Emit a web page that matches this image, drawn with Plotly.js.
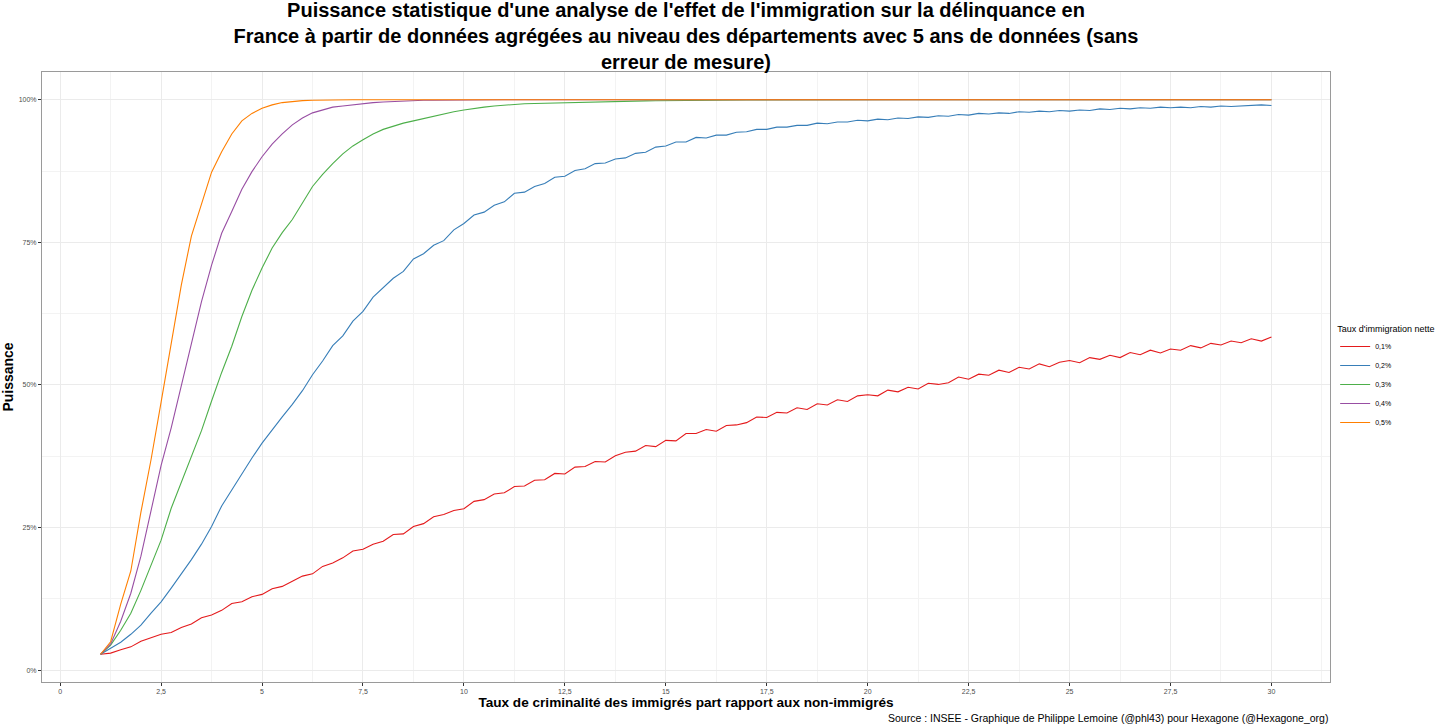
<!DOCTYPE html>
<html>
<head>
<meta charset="utf-8">
<script src="https://cdn.plot.ly/plotly-3.0.1.min.js"></script>
<style>html,body{margin:0;padding:0;background:#fff;}#chart{width:1456px;height:728px;}</style>
</head>
<body>
<div id="chart"></div>
<script>
// x: taux de criminalité relatif
const ratio = [
 1, 1.25, 1.5, 1.75,  2, 2.25, 2.5, 2.75,  3, 3.25, 3.5, 3.75,  4, 4.25, 4.5, 4.75,
 5, 5.25, 5.5, 5.75,  6, 6.25, 6.5, 6.75,  7, 7.25, 7.5, 7.75,  8, 8.25, 8.5, 8.75,
 9, 9.25, 9.5, 9.75,  10, 10.25, 10.5, 10.75,  11, 11.25, 11.5, 11.75,  12, 12.25, 12.5, 12.75,
 13, 13.25, 13.5, 13.75,  14, 14.25, 14.5, 14.75,  15, 15.25, 15.5, 15.75,  16, 16.25, 16.5, 16.75,
 17, 17.25, 17.5, 17.75,  18, 18.25, 18.5, 18.75,  19, 19.25, 19.5, 19.75,  20, 20.25, 20.5, 20.75,
 21, 21.25, 21.5, 21.75,  22, 22.25, 22.5, 22.75,  23, 23.25, 23.5, 23.75,  24, 24.25, 24.5, 24.75,
 25, 25.25, 25.5, 25.75,  26, 26.25, 26.5, 26.75,  27, 27.25, 27.5, 27.75,  28, 28.25, 28.5, 28.75,
 29, 29.25, 29.5, 29.75,  30
];

// Puissance (%) par taux d'immigration nette
const p01 = [
 2.8, 3.0, 3.6, 4.1,  5.1, 5.7, 6.3, 6.6,  7.5, 8.1, 9.2, 9.7,  10.5, 11.7, 12.0, 12.9,
 13.3, 14.3, 14.7, 15.6,  16.5, 16.9, 18.2, 18.8,  19.7, 20.9, 21.2, 22.1,  22.6, 23.8, 23.9, 25.2,
 25.7, 26.9, 27.3, 28.0,  28.3, 29.6, 29.9, 30.9,  31.1, 32.2, 32.3, 33.3,  33.4, 34.5, 34.4, 35.6,
 35.7, 36.6, 36.5, 37.6,  38.2, 38.4, 39.4, 39.2,  40.3, 40.2, 41.5, 41.5,  42.2, 41.9, 42.9, 43.0,
 43.4, 44.4, 44.3, 45.2,  45.1, 46.0, 45.7, 46.7,  46.5, 47.4, 47.1, 48.1,  48.3, 48.1, 49.1, 48.8,
 49.6, 49.3, 50.3, 50.1,  50.4, 51.4, 51.0, 51.9,  51.7, 52.6, 52.2, 53.1,  52.8, 53.7, 53.2, 54.0,
 54.3, 53.9, 54.8, 54.5,  55.2, 54.8, 55.7, 55.3,  56.1, 55.6, 56.3, 56.1,  56.9, 56.5, 57.3, 57.0,
 57.7, 57.4, 58.1, 57.7,  58.4
];
const p02 = [
 2.8, 3.8, 4.9, 6.3,  7.9, 10.0, 12.0, 14.4,  16.8, 19.4, 22.1, 25.2,  28.8, 31.6, 34.5, 37.2,
 39.8, 42.2, 44.4, 46.6,  49.0, 51.8, 54.2, 56.9,  58.6, 61.2, 62.9, 65.4,  67.0, 68.7, 69.9, 72.1,
 73.0, 74.5, 75.3, 77.2,  78.3, 79.8, 80.3, 81.5,  82.1, 83.6, 83.8, 84.8,  85.3, 86.4, 86.6, 87.6,
 87.9, 88.8, 88.9, 89.6,  89.8, 90.6, 90.8, 91.7,  91.9, 92.6, 92.6, 93.4,  93.3, 93.8, 93.8, 94.3,
 94.4, 94.8, 94.8, 95.2,  95.2, 95.5, 95.5, 95.9,  95.8, 96.1, 96.1, 96.4,  96.3, 96.6, 96.5, 96.8,
 96.7, 97.0, 96.9, 97.2,  97.1, 97.4, 97.3, 97.6,  97.5, 97.7, 97.6, 97.9,  97.8, 98.0, 97.9, 98.1,
 98.0, 98.2, 98.1, 98.4,  98.3, 98.5, 98.4, 98.6,  98.5, 98.7, 98.6, 98.7,  98.6, 98.8, 98.7, 98.9,
 98.8, 98.9, 98.9, 99.1,  99.0
];
const p03 = [
 2.8, 4.4, 7.0, 10.0,  14.0, 18.3, 22.8, 28.4,  33.0, 37.5, 42.0, 47.2,  52.2, 56.8, 62.0, 66.6,
 70.5, 74.0, 76.7, 79.0,  82.0, 84.8, 86.9, 88.8,  90.5, 91.9, 93.0, 94.0,  94.8, 95.4, 95.9, 96.3,
 96.7, 97.2, 97.6, 97.9,  98.2, 98.5, 98.7, 98.9,  99.05, 99.2, 99.3, 99.35,  99.4, 99.45, 99.5, 99.55,
 99.6, 99.62, 99.65, 99.7,  99.75, 99.78, 99.8, 99.82,  99.85, 99.87, 99.88, 99.9,  99.92, 99.93, 99.94, 99.95,
 99.96, 99.97, 99.98, 99.98,  100, 100, 100, 100,  100, 100, 100, 100,  100, 100, 100, 100,
 100, 100, 100, 100,  100, 100, 100, 100,  100, 100, 100, 100,  100, 100, 100, 100,
 100, 100, 100, 100,  100, 100, 100, 100,  100, 100, 100, 100,  100, 100, 100, 100,
 100, 100, 100, 100,  100
];
const p04 = [
 2.8, 4.6, 8.6, 13.5,  20.0, 28.0, 35.9, 42.5,  49.7, 57.4, 64.6, 71.0,  76.6, 80.4, 84.3, 87.4,
 90.0, 92.2, 94.0, 95.6,  96.8, 97.7, 98.2, 98.7,  98.9, 99.1, 99.35, 99.5,  99.6, 99.7, 99.8, 99.85,
 99.9, 99.92, 99.95, 99.97,  100, 100, 100, 100,  100, 100, 100, 100,  100, 100, 100, 100,
 100, 100, 100, 100,  100, 100, 100, 100,  100, 100, 100, 100,  100, 100, 100, 100,
 100, 100, 100, 100,  100, 100, 100, 100,  100, 100, 100, 100,  100, 100, 100, 100,
 100, 100, 100, 100,  100, 100, 100, 100,  100, 100, 100, 100,  100, 100, 100, 100,
 100, 100, 100, 100,  100, 100, 100, 100,  100, 100, 100, 100,  100, 100, 100, 100,
 100, 100, 100, 100,  100
];
const p05 = [
 2.8, 5.0, 11.6, 17.4,  27.7, 36.9, 47.0, 57.6,  67.5, 76.1, 81.7, 87.3,  90.9, 94.0, 96.3, 97.6,
 98.5, 99.1, 99.5, 99.7,  99.85, 99.9, 99.95, 99.95,  100, 100, 100, 100,  100, 100, 100, 100,
 100, 100, 100, 100,  100, 100, 100, 100,  100, 100, 100, 100,  100, 100, 100, 100,
 100, 100, 100, 100,  100, 100, 100, 100,  100, 100, 100, 100,  100, 100, 100, 100,
 100, 100, 100, 100,  100, 100, 100, 100,  100, 100, 100, 100,  100, 100, 100, 100,
 100, 100, 100, 100,  100, 100, 100, 100,  100, 100, 100, 100,  100, 100, 100, 100,
 100, 100, 100, 100,  100, 100, 100, 100,  100, 100, 100, 100,  100, 100, 100, 100,
 100, 100, 100, 100,  100
];

const seriesNames = ["0,1%", "0,2%", "0,3%", "0,4%", "0,5%"];
const seriesValues = [p01, p02, p03, p04, p05];
const seriesColors = ["#E41A1C", "#377EB8", "#4DAF4A", "#984EA3", "#FF7F00"];

const xTickVals = [0, 2.5, 5, 7.5, 10, 12.5, 15, 17.5, 20, 22.5, 25, 27.5, 30];
const xTickText = ["0", "2,5", "5", "7,5", "10", "12,5", "15", "17,5", "20", "22,5", "25", "27,5", "30"];
const yTickVals = [0, 25, 50, 75, 100];
const yTickText = ["0%", "25%", "50%", "75%", "100%"];

const FONT = "Liberation Sans, Arial, Helvetica, sans-serif";

const traces = seriesNames.map((name, i) => ({
  type: "scatter",
  mode: "lines",
  name: name,
  x: ratio,
  y: seriesValues[i],
  line: { color: seriesColors[i], width: 1.1 },
  hoverinfo: "skip"
}));

const layout = {
  width: 1456,
  height: 728,
  paper_bgcolor: "#ffffff",
  plot_bgcolor: "#ffffff",
  margin: { l: 42, r: 126, t: 72, b: 46 },
  font: { family: FONT, color: "#000" },
  title: {
    text: "Puissance statistique d'une analyse de l'effet de l'immigration sur la délinquance en<br>France à partir de données agrégées au niveau des départements avec 5 ans de données (sans<br>erreur de mesure)",
    font: { family: FONT, size: 20, color: "#000", weight: "bold" },
    x: 0.5,
    xref: "paper",
    xanchor: "center",
    y: 0.976,
    yref: "container",
    yanchor: "middle"
  },
  xaxis: {
    range: [-0.45, 31.45],
    tickvals: xTickVals,
    ticktext: xTickText,
    tickfont: { family: FONT, size: 7, color: "#4d4d4d" },
    ticks: "outside",
    ticklen: 3,
    tickwidth: 0.6,
    tickcolor: "#333",
    showgrid: true,
    gridcolor: "#ebebeb",
    gridwidth: 1,
    minor: { dtick: 1.25, tick0: 0, showgrid: true, gridcolor: "#f3f3f3", gridwidth: 0.6, ticks: "" },
    showline: true,
    mirror: true,
    linecolor: "#9a9a9a",
    linewidth: 1,
    zeroline: false,
    title: { text: "Taux de criminalité des immigrés part rapport aux non-immigrés", font: { family: FONT, size: 13.6, color: "#000", weight: "bold" }, standoff: 3 }
  },
  yaxis: {
    range: [-2.06, 104.86],
    tickvals: yTickVals,
    ticktext: yTickText,
    tickfont: { family: FONT, size: 7, color: "#4d4d4d" },
    ticks: "outside",
    ticklen: 3,
    tickwidth: 0.6,
    tickcolor: "#333",
    showgrid: true,
    gridcolor: "#ebebeb",
    gridwidth: 1,
    minor: { dtick: 12.5, tick0: 0, showgrid: true, gridcolor: "#f3f3f3", gridwidth: 0.6, ticks: "" },
    showline: true,
    mirror: true,
    linecolor: "#9a9a9a",
    linewidth: 1,
    zeroline: false,
    title: { text: "Puissance", font: { family: FONT, size: 14, color: "#000", weight: "bold" }, standoff: 6 }
  },
  showlegend: true,
  legend: {
    x: 1.004,
    xanchor: "left",
    y: 0.497,
    yanchor: "middle",
    title: { text: "Taux d'immigration nette", font: { family: FONT, size: 9, color: "#000" } },
    font: { family: FONT, size: 7, color: "#000" },
    bgcolor: "rgba(0,0,0,0)",
    itemwidth: 30,
    tracegroupgap: 0
  },
  annotations: [
    {
      text: "Source : INSEE - Graphique de Philippe Lemoine (@phl43) pour Hexagone (@Hexagone_org)",
      xref: "paper", yref: "paper",
      x: 1, y: 0,
      xanchor: "right", yanchor: "top",
      yshift: -28,
      showarrow: false,
      font: { family: FONT, size: 10.5, color: "#000" }
    }
  ]
};

Plotly.newPlot("chart", traces, layout, { displayModeBar: false, responsive: false });
</script>
</body>
</html>
